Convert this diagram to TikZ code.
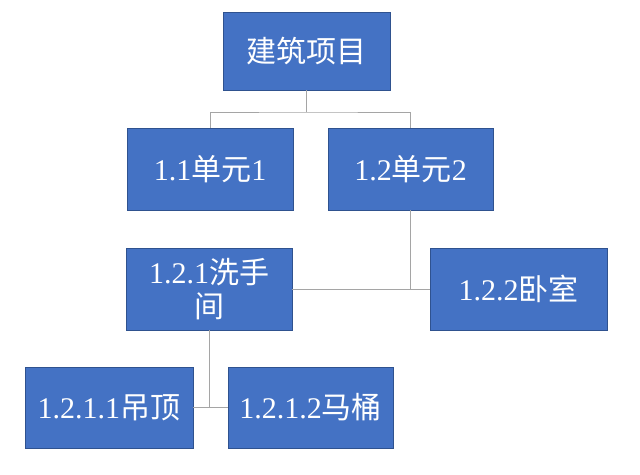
\documentclass[tikz,border=0pt]{standalone}
\usepackage{fontspec}
\setmainfont{Liberation Serif}
\newfontfamily\cjk{Noto Sans CJK SC}
\definecolor{boxblue}{HTML}{4472C4}
\definecolor{boxline}{HTML}{2F528F}
\definecolor{linkgray}{HTML}{A5A5A5}
\tikzstyle{unit} = [rectangle, draw=boxline, fill=boxblue, text=white, line width=0.8pt, align=center, inner sep=0pt, font=\fontsize{30}{34}\selectfont]
\tikzstyle{link} = [draw=linkgray, line width=1pt]

\begin{document}
\begin{tikzpicture}[x=1pt, y=-1pt]
    \useasboundingbox (0,0) rectangle (640,474);
    % Nodes
    \node (project) [unit, minimum width=167pt, minimum height=78pt] at (306.5,51) {{\cjk 建筑项目}};
    \node (unitA) [unit, minimum width=166pt, minimum height=82pt] at (210,169) {1.1{\cjk 单元}1};
    \node (unitB) [unit, minimum width=165pt, minimum height=82pt] at (410.5,169) {1.2{\cjk 单元}2};
    \node (bath) [unit, minimum width=166pt, minimum height=82pt] at (209,289) {1.2.1{\cjk 洗手}\\{\cjk 间}};
    \node (bedroom) [unit, minimum width=177pt, minimum height=82pt] at (518.5,289) {1.2.2{\cjk 卧室}};
    \node (ceiling) [unit, minimum width=168pt, minimum height=81pt] at (109,407.5) {1.2.1.1{\cjk 吊顶}};
    \node (toilet) [unit, minimum width=165pt, minimum height=81pt] at (310.5,407.5) {1.2.1.2{\cjk 马桶}};

    % Connectors
    \coordinate (forkA) at (306.5,112);
    \coordinate (forkB) at (410.5,290);
    \coordinate (forkC) at (209,408);
    \draw [link] (project.south) -- (forkA);
    \draw [link] (unitA.north) |- (forkA) -| (unitB.north);
    \draw [link] (unitB.south) -- (forkB);
    \draw [link] (bath.east) -- (bedroom.west);
    \draw [link] (bath.south) -- (forkC);
    \draw [link] (ceiling.east) -- (toilet.west);
\end{tikzpicture}
\end{document}
